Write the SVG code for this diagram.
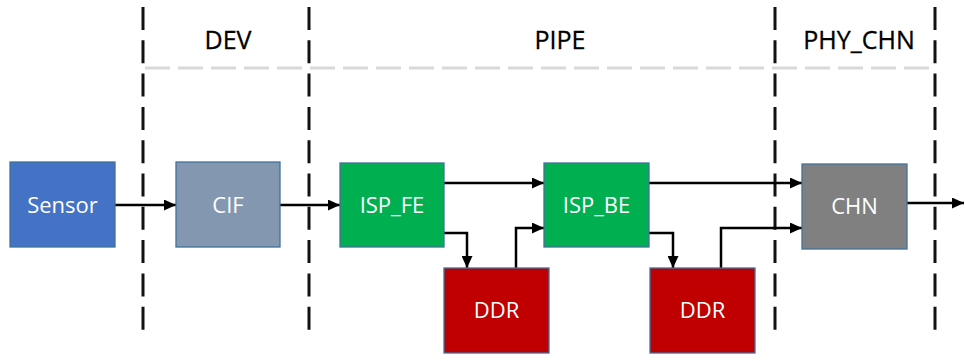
<svg xmlns="http://www.w3.org/2000/svg" width="965" height="361" viewBox="0 0 965 361">
<style>
.hdr{font-family:"Open Sans","Liberation Sans",sans-serif;font-size:25px;fill:#000;stroke:#000;stroke-width:0.3;text-anchor:middle}
.lbl{font-family:"Open Sans","Liberation Sans",sans-serif;font-size:22px;fill:#ffffff;text-anchor:middle}
.box{stroke:#41719C;stroke-width:1.3}
.vdash{stroke:#111;stroke-width:3;stroke-dasharray:23 10.3;fill:none}
.hdash{stroke:#d9d9d9;stroke-width:3;stroke-dasharray:25 8;fill:none}
.conn{stroke:#000;stroke-width:2.5;fill:none;marker-end:url(#arr)}
</style>
<defs>
<marker id="arr" markerUnits="userSpaceOnUse" markerWidth="12" markerHeight="11" refX="12" refY="5.5" orient="auto">
<path d="M0,0 L12,5.5 L0,11 z" fill="#000"/>
</marker>
</defs>
<rect width="965" height="361" fill="#ffffff"/>
<g id="lanes">
<line class="hdash" x1="145" y1="68" x2="935" y2="68"/>
<line class="vdash" x1="143" y1="7" x2="143" y2="335"/>
<line class="vdash" x1="309" y1="7" x2="309" y2="335"/>
<line class="vdash" x1="775" y1="7" x2="775" y2="335"/>
<line class="vdash" x1="935" y1="7" x2="935" y2="335"/>
<text class="hdr" x="228" y="49">DEV</text>
<text class="hdr" x="560" y="49">PIPE</text>
<text class="hdr" x="859" y="49">PHY_CHN</text>
</g>
<g id="connectors">
<path class="conn" d="M115,205 H176"/>
<path class="conn" d="M280,205 H340"/>
<path class="conn" d="M444,183 H544"/>
<path class="conn" d="M444,233 H467 V268"/>
<path class="conn" d="M516,268 V228 H544"/>
<path class="conn" d="M649,183 H802"/>
<path class="conn" d="M649,233 H673 V268"/>
<path class="conn" d="M721,268 V228 H802"/>
<path class="conn" d="M907,203 H964"/>
</g>
<g id="sensor">
<rect class="box" x="10" y="162" width="105" height="85" fill="#4472C4"/>
<text class="lbl" x="62.5" y="212.5">Sensor</text>
</g>
<g id="cif">
<rect class="box" x="176" y="162" width="104" height="85" fill="#8497B0"/>
<text class="lbl" x="228" y="212.5">CIF</text>
</g>
<g id="isp_fe">
<rect class="box" x="340" y="163" width="104" height="84" fill="#00B050"/>
<text class="lbl" x="392" y="213">ISP_FE</text>
</g>
<g id="isp_be">
<rect class="box" x="544" y="163" width="105" height="84" fill="#00B050"/>
<text class="lbl" x="596.5" y="213">ISP_BE</text>
</g>
<g id="ddr1">
<rect class="box" x="444" y="268" width="105" height="85" fill="#C00000"/>
<text class="lbl" x="496.5" y="318">DDR</text>
</g>
<g id="ddr2">
<rect class="box" x="650" y="268" width="105" height="85" fill="#C00000"/>
<text class="lbl" x="702.5" y="318">DDR</text>
</g>
<g id="chn">
<rect class="box" x="802" y="164" width="105" height="85" fill="#808080"/>
<text class="lbl" x="854.5" y="214">CHN</text>
</g>
</svg>
